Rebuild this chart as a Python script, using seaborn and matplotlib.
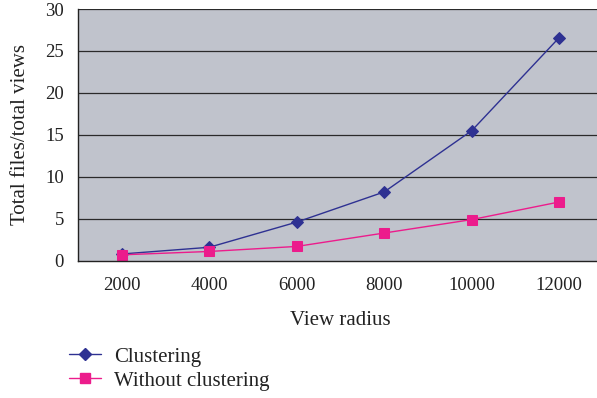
import numpy as np
import pandas as pd
import matplotlib
matplotlib.use("Agg")
import matplotlib.pyplot as plt
from matplotlib.lines import Line2D
import seaborn as sns

# Data
radius = ["2000", "4000", "6000", "8000", "10000", "12000"]
clustering = [0.8, 1.6, 4.6, 8.2, 15.5, 26.6]
without_clustering = [0.7, 1.1, 1.7, 3.3, 4.9, 7.0]
series_names = ["Clustering", "Without clustering"]
y_ticks = [0, 5, 10, 15, 20, 25, 30]

blue = "#2E3192"
pink = "#EC1C8C"
bg = "#C0C3CC"
ink = "#222222"

sns.set_style("white")
plt.rcParams["font.family"] = ["Liberation Serif", "DejaVu Serif"]

df = pd.DataFrame({
    "radius": radius * 2,
    "value": clustering + without_clustering,
    "series": [series_names[0]] * len(radius) + [series_names[1]] * len(radius),
})

fig = plt.figure(figsize=(5.97, 3.98), dpi=100)
ax = fig.add_axes([78 / 597, 137.3 / 398, (603 - 78) / 597, 251.7 / 398])
ax.set_facecolor(bg)

sns.pointplot(
    data=df, x="radius", y="value", hue="series", order=radius,
    hue_order=series_names, palette=[blue, pink], markers=["D", "s"],
    linestyles=["-", "-"], dodge=False, legend=False, ax=ax,
    linewidth=1.0, markersize=6.8, errorbar=None,
)
# diamonds a touch smaller than the squares
if ax.lines:
    ax.lines[0].set_markersize(6.3)

ax.set_xlim(-0.5, len(radius) - 0.5)
ax.set_ylim(0, 30)
ax.set_yticks(y_ticks)
ax.set_yticklabels([str(t) for t in y_ticks])
ax.grid(False)
for t in y_ticks[1:]:
    ax.axhline(t, color="#2a2a2a", lw=0.9, zorder=0.5)

ax.set_xticks(range(len(radius)))
ax.set_xticklabels(radius)
ax.set_xticks(np.arange(-0.5, len(radius) + 0.5, 1.0), minor=True)
ax.tick_params(axis="x", which="major", length=0, pad=12, labelsize=13.5, labelcolor=ink)
ax.tick_params(axis="x", which="minor", length=8, width=1.0, color=ink, direction="out")
ax.tick_params(axis="y", which="major", length=6, width=1.0, color=ink, direction="out",
               pad=4, labelsize=13.5, labelcolor=ink)

for s in ["top", "right"]:
    ax.spines[s].set_visible(False)
for s in ["left", "bottom"]:
    ax.spines[s].set_color(ink)
    ax.spines[s].set_linewidth(1.0)

ax.set_xlabel("View radius", fontsize=15, color=ink, labelpad=12)
ax.set_ylabel("Total files/total views", fontsize=15, color=ink, labelpad=11)

handles = [
    Line2D([], [], color=blue, marker="D", markersize=6.3, lw=1.0),
    Line2D([], [], color=pink, marker="s", markersize=6.8, lw=1.0),
]
fig.legend(handles, series_names, loc="upper left", bbox_to_anchor=(69 / 597, 1 - 347 / 398),
           frameon=False, fontsize=15, handlelength=1.55, handletextpad=0.6,
           labelspacing=0.22, borderaxespad=0, borderpad=0, labelcolor=ink)

fig.savefig("out.png", dpi=100)
